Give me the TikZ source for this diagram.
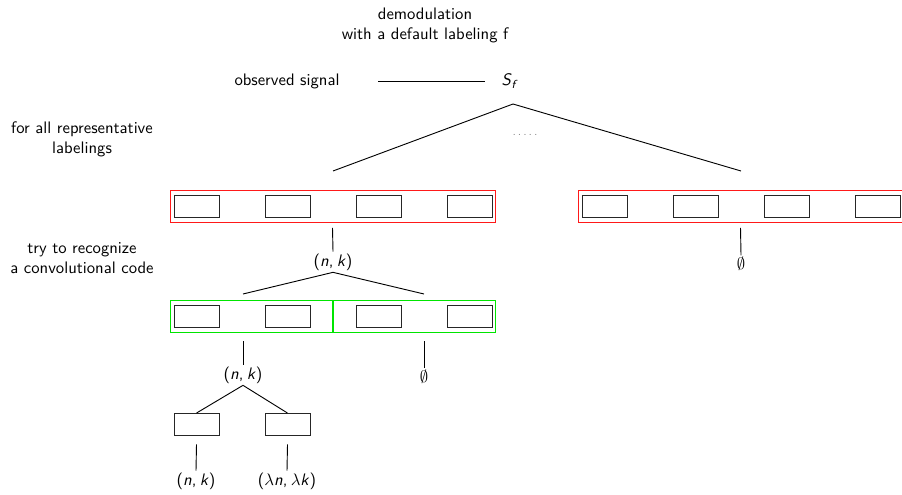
\documentclass[tikz,border=0pt]{standalone}
\usepackage{fontspec}
\begin{document}
\begin{tikzpicture}[x=0.6pt,y=-0.6pt,
  lbl/.style={font=\sffamily, align=center, inner sep=1pt},
  cell/.style={draw=black!85, line width=0.55pt, minimum width=27pt, minimum height=13.2pt, inner sep=0pt},
  redbox/.style={draw=red!90, line width=0.5pt, minimum width=195pt, minimum height=19.2pt, inner sep=0pt},
  greenbox/.style={draw=green!90!black, line width=0.5pt, minimum width=97.8pt, minimum height=19.2pt, inner sep=0pt},
  conn/.style={draw=black, line width=0.55pt}]
\useasboundingbox (0,0) rectangle (902,495);

% headings
\node[lbl] (demod) at (425,25) {demodulation\\with a default labeling f};
\node[lbl] (obs) at (287,81) {observed signal};
\node[lbl] (sf) at (510,81) {\textit{S}\textsubscript{\textit{f}}};
\coordinate (obsR) at (378,81);
\coordinate (sfL) at (485,81);
\draw[conn] (obsR) -- (sfL);

\node[lbl] (forall) at (82,139) {for all representative\\labelings};
\node[lbl] (try) at (82,258) {try to recognize\\a convolutional code};

% top fan
\coordinate (apex) at (513,104);
\coordinate (fanL) at (333,171);
\coordinate (fanR) at (741,171);
\draw[conn] (fanL) -- (apex) -- (fanR);
\node[font=\scriptsize\sffamily, text=black!45, inner sep=0pt] (dots) at (525,135) {.\,.\,.\,.\,.};

% red boxes
\node[redbox] (R1) at (332.5,206.5) {};
\node[redbox] (R2) at (740.5,206.5) {};
\foreach \i/\x in {1/196.5,2/287.5,3/378.5,4/469.5}{
  \node[cell] (a\i) at (\x,206.5) {};
}
\foreach \i/\x in {1/604.5,2/695.5,3/786.5,4/877.5}{
  \node[cell] (b\i) at (\x,206.5) {};
}

% results of red boxes
\node[lbl] (nk1) at (333,262) {(\textit{n},\kern2pt\textit{k})};
\node[lbl] (empty1) at (741,264) {$\emptyset$};
\draw[conn] ([yshift=-3pt]R1.south) -- (nk1.north);
\draw[conn] ([yshift=-3pt]R2.south) -- (empty1.north);

% green boxes
\node[greenbox] (G1) at (251.5,316.5) {};
\node[greenbox] (G2) at (414,316.5) {};
\foreach \i/\x in {1/196.5,2/287.5,3/378.5,4/469.5}{
  \node[cell] (c\i) at (\x,316.5) {};
}
\coordinate (gL) at (243,294);
\coordinate (gR) at (424,294);
\draw[conn] (gL) -- (nk1.south) -- (gR);

\node[lbl] (nk2) at (243,375) {(\textit{n},\kern2pt\textit{k})};
\node[lbl] (empty2) at (424,377) {$\emptyset$};
\draw[conn] ([yshift=-5pt]G1.south -| nk2) -- (nk2.north);
\draw[conn] ([yshift=-5pt]G2.south -| empty2) -- (empty2.north);

% bottom level
\node[cell] (d1) at (196.5,424.5) {};
\node[cell] (d2) at (287.5,424.5) {};
\draw[conn] (d1.north) -- (nk2.south) -- (d2.north);
\node[lbl] (nk3) at (196,481) {(\textit{n},\kern2pt\textit{k})};
\node[lbl] (lnk) at (287,481) {($\lambda$\textit{n},\kern2pt$\lambda$\textit{k})};
\draw[conn] ([yshift=-5pt]d1.south) -- (nk3.north);
\draw[conn] ([yshift=-5pt]d2.south) -- (lnk.north);
\end{tikzpicture}
\end{document}
